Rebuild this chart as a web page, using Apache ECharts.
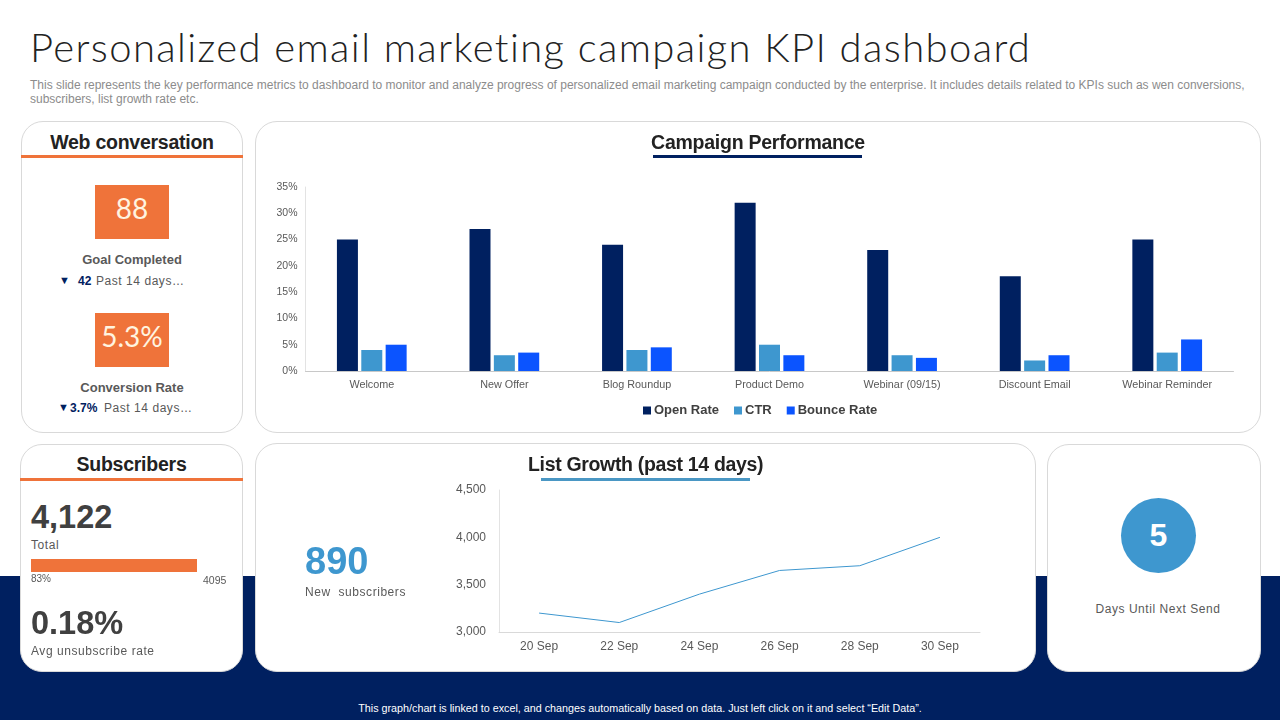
<!DOCTYPE html>
<html lang="en">
<head>
<meta charset="utf-8">
<title>Personalized email marketing campaign KPI dashboard</title>
<style>
  html, body { margin: 0; width: 1280px; height: 720px; overflow: hidden; background: #fff; }
  body { position: relative; font-family: "Liberation Sans", Arial, sans-serif; }
  .band { position: absolute; left: 0; top: 576px; width: 1280px; height: 144px; background: #002060; }
  .card { position: absolute; box-sizing: border-box; background: #fff; border: 1px solid #d9d9d9; border-radius: 22px; }
  .rule { position: absolute; height: 3px; }
  .t { position: absolute; white-space: nowrap; line-height: 20px; height: 20px; }
  .c { text-align: center; }
  .head { font-size: 19.5px; font-weight: bold; color: #222; letter-spacing: -0.25px; }
  .tile { position: absolute; left: 95px; width: 74px; height: 54px; line-height: 46px; background: #ef733a; color: #fff4e0;
    text-align: center; font-family: Lato, "Open Sans", sans-serif; font-size: 28px; }
  .lab { font-size: 13px; font-weight: bold; color: #595959; }
  .sub { font-size: 12px; color: #595959; letter-spacing: 0.55px; }
  .big { font-size: 32.5px; font-weight: bold; color: #404040; line-height: 40px; height: 40px; }
  .chart { position: absolute; }
</style>
</head>
<body>
  <div class="band"></div>

  <div class="t" style="left:30px;top:22px;height:50px;line-height:50px;font-family:Lato,sans-serif;font-weight:300;font-size:40px;letter-spacing:1.39px;color:#222">Personalized email marketing campaign KPI dashboard</div>
  <div class="t" style="left:30px;top:75px;font-size:12px;color:#8c8c8c">This slide represents the key performance metrics to dashboard to monitor and analyze progress of personalized email marketing campaign conducted by the enterprise. It includes details related to KPIs such as wen conversions,</div>
  <div class="t" style="left:30px;top:89px;font-size:12px;color:#8c8c8c">subscribers, list growth rate etc.</div>

  <div class="card" style="left:21px;top:121px;width:222px;height:312px"></div>
  <div class="card" style="left:255px;top:121px;width:1006px;height:312px"></div>
  <div class="card" style="left:20px;top:444px;width:223px;height:228px"></div>
  <div class="card" style="left:255px;top:443px;width:781px;height:229px"></div>
  <div class="card" style="left:1047px;top:444px;width:214px;height:228px"></div>

  <!-- web conversation -->
  <div class="t c head" style="left:21px;width:222px;top:132px">Web conversation</div>
  <div class="rule" style="left:21px;width:222px;top:155px;background:#ef733a"></div>
  <div class="tile" style="top:185px">88</div>
  <div class="t c lab" style="left:21px;width:222px;top:250px">Goal Completed</div>
  <div class="t" style="left:59px;top:270px;font-size:11px;color:#002060">▼</div>
  <div class="t" style="left:78px;top:271px;font-size:12px;font-weight:bold;color:#002060">42</div>
  <div class="t sub" style="left:96px;top:271px">Past 14 days…</div>
  <div class="tile" style="top:313px">5.3%</div>
  <div class="t c lab" style="left:21px;width:222px;top:378px">Conversion Rate</div>
  <div class="t" style="left:58px;top:397px;font-size:11px;color:#002060">▼</div>
  <div class="t" style="left:70px;top:398px;font-size:12px;font-weight:bold;color:#002060">3.7%</div>
  <div class="t sub" style="left:104px;top:398px">Past 14 days…</div>

  <!-- campaign performance -->
  <div id="campaign" class="chart" style="left:255px;top:121px;width:1006px;height:311px"></div>
  <div class="t c head" style="left:255px;width:1006px;top:132px">Campaign Performance</div>
  <div class="rule" style="left:653px;width:209px;top:155px;background:#002060"></div>

  <!-- subscribers -->
  <div class="t c head" style="left:20px;width:223px;top:454px">Subscribers</div>
  <div class="rule" style="left:20px;width:223px;top:478px;background:#ef733a"></div>
  <div class="t big" style="left:31px;top:497px">4,122</div>
  <div class="t sub" style="left:31px;top:535px">Total</div>
  <div id="progress" class="chart" style="left:31px;top:559px;width:200px;height:13px"></div>
  <div class="t" style="left:31px;top:569px;font-size:10px;color:#595959">83%</div>
  <div class="t" style="left:203px;top:570px;font-size:10.5px;color:#595959">4095</div>
  <div class="t big" style="left:31px;top:603px">0.18%</div>
  <div class="t sub" style="left:31px;top:641px">Avg unsubscribe rate</div>

  <!-- list growth -->
  <div id="growth" class="chart" style="left:255px;top:443px;width:781px;height:228px"></div>
  <div class="t head" style="left:528px;top:454px;letter-spacing:-0.33px">List Growth (past 14 days)</div>
  <div class="rule" style="left:541px;width:209px;top:478px;background:#4a97c4"></div>
  <div class="t" style="left:305px;top:541px;height:40px;line-height:40px;font-size:38px;font-weight:bold;color:#3e97cf">890</div>
  <div class="t sub" style="left:305px;top:582px;word-spacing:4px">New subscribers</div>

  <!-- days until next send -->
  <div style="position:absolute;left:1121px;top:498px;width:75px;height:75px;line-height:75px;border-radius:50%;background:#3e97cf;color:#fff;text-align:center;font-size:32px;font-weight:bold">5</div>
  <div class="t c sub" style="left:1047px;width:222px;top:599px">Days Until Next Send</div>

  <div class="t c" style="left:0;width:1280px;top:698px;font-size:10.75px;color:#fff">This graph/chart is linked to excel, and changes automatically based on data. Just left click on it and select “Edit Data”.</div>

  <script src="https://cdn.jsdelivr.net/npm/echarts@6/dist/echarts.min.js"></script>
  <script>
    var campaigns = ['Welcome', 'New Offer', 'Blog Roundup', 'Product Demo', 'Webinar (09/15)', 'Discount Email', 'Webinar Reminder'];
    var openRate = [25, 27, 24, 32, 23, 18, 25];
    var ctr = [4, 3, 4, 5, 3, 2, 3.5];
    var bounceRate = [5, 3.5, 4.5, 3, 2.5, 3, 6];

    var growthDays = ['20 Sep', '22 Sep', '24 Sep', '26 Sep', '28 Sep', '30 Sep'];
    var growthValues = [3200, 3100, 3400, 3650, 3700, 4000];

    var progressPercent = [83];

    var font = '"Liberation Sans", Arial, sans-serif';

    function barSeries(name, data, color) {
      return { name: name, type: 'bar', data: data, barWidth: 21, barGap: '16%', itemStyle: { color: color } };
    }

    var campaignChart = echarts.init(document.getElementById('campaign'));
    campaignChart.setOption({
      animation: false,
      textStyle: { fontFamily: font },
      grid: { left: 50.5, right: 27.5, top: 66, bottom: 61 },
      legend: {
        bottom: 10, left: 383, itemWidth: 8, itemHeight: 8, itemGap: 15, icon: 'rect',
        textStyle: { fontSize: 13, fontWeight: 'bold', color: '#404040', padding: [0, 0, 0, -2] },
        data: ['Open Rate', 'CTR', 'Bounce Rate']
      },
      xAxis: {
        type: 'category', data: campaigns,
        axisTick: { show: false },
        axisLine: { lineStyle: { color: '#c8c8c8' } },
        axisLabel: { fontSize: 10.8, color: '#595959', margin: 9, interval: 0 }
      },
      yAxis: {
        type: 'value', min: 0, max: 35, interval: 5,
        splitLine: { show: false },
        axisLine: { show: true, lineStyle: { color: '#e3e3e3' } },
        axisLabel: { fontSize: 10.5, color: '#595959', margin: 8, padding: [4, 0, 0, 0], formatter: '{value}%' }
      },
      series: [
        barSeries('Open Rate', openRate, '#002060'),
        barSeries('CTR', ctr, '#3e97cf'),
        barSeries('Bounce Rate', bounceRate, '#0b54ff')
      ]
    });

    var growthChart = echarts.init(document.getElementById('growth'));
    growthChart.setOption({
      animation: false,
      textStyle: { fontFamily: font },
      grid: { left: 244, right: 56, top: 47, bottom: 39 },
      xAxis: {
        type: 'category', data: growthDays,
        axisTick: { show: false },
        axisLine: { lineStyle: { color: '#d9d9d9' } },
        axisLabel: { fontSize: 12, color: '#595959', margin: 9 }
      },
      yAxis: {
        type: 'value', min: 3000, max: 4500, interval: 500,
        splitLine: { show: false },
        axisLine: { show: true, lineStyle: { color: '#e3e3e3' } },
        axisLabel: {
          fontSize: 12, color: '#595959', margin: 13, padding: [4, 0, 0, 0],
          formatter: function (v) { return echarts.format.addCommas(v); }
        }
      },
      series: [{
        type: 'line', data: growthValues, symbol: 'none',
        lineStyle: { color: '#3e97cf', width: 1 }
      }]
    });

    var progressChart = echarts.init(document.getElementById('progress'));
    progressChart.setOption({
      animation: false,
      grid: { left: 0, right: 0, top: 0, bottom: 0 },
      xAxis: { type: 'value', min: 0, max: 100, show: false },
      yAxis: { type: 'category', data: ['Total'], show: false },
      series: [{ type: 'bar', data: progressPercent, barWidth: 13, itemStyle: { color: '#ef733a' } }]
    });
  </script>
</body>
</html>
